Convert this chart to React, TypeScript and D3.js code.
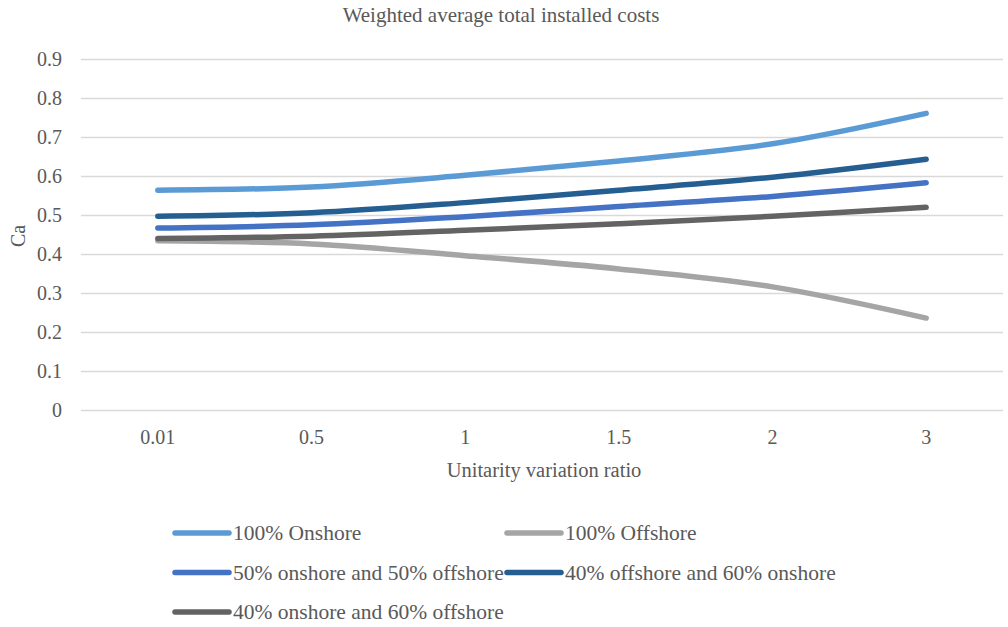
import React from "react";
import * as d3 from "d3";

// Category ticks on the x axis (unitarity variation ratio)
const categories = ["0.01", "0.5", "1", "1.5", "2", "3"];

// Ca values per scenario
const onshore100 = [0.565, 0.573, 0.603, 0.64, 0.684, 0.762];
const offshore100 = [0.435, 0.427, 0.397, 0.363, 0.317, 0.237];
const onshore50offshore50 = [0.468, 0.476, 0.497, 0.523, 0.549, 0.584];
const offshore40onshore60 = [0.498, 0.507, 0.533, 0.565, 0.598, 0.644];
const onshore40offshore60 = [0.441, 0.447, 0.462, 0.479, 0.498, 0.521];

const yTicks = [0, 0.1, 0.2, 0.3, 0.4, 0.5, 0.6, 0.7, 0.8, 0.9];

const series = [
  { name: "100% Onshore", values: onshore100, color: "#5b9bd5" },
  { name: "100% Offshore", values: offshore100, color: "#a5a5a5" },
  { name: "50% onshore and 50% offshore", values: onshore50offshore50, color: "#4472c4" },
  { name: "40% offshore and 60% onshore", values: offshore40onshore60, color: "#255e91" },
  { name: "40% onshore and 60% offshore", values: onshore40offshore60, color: "#636363" },
];

const W = 1008;
const H = 627;
const left = 81;
const right = 1003;
const top = 59.5;
const bottom = 410.5;
const FONT = '"Liberation Serif", "DejaVu Serif", serif';
const TEXT = "#595959";

const txt = (size: number): React.CSSProperties => ({ fontFamily: FONT, fontSize: size, fill: TEXT });

export default function App() {
  const x = d3.scaleBand<string>().domain(categories).range([left, right]);
  const y = d3.scaleLinear().domain([0, 0.9]).range([bottom, top]);
  const cx = (c: string) => (x(c) ?? 0) + x.bandwidth() / 2;

  const line = d3
    .line<number>()
    .x((_, i) => cx(categories[i]))
    .y((v) => y(v))
    .curve(d3.curveCatmullRom.alpha(0.5));

  const legendRows = [
    [series[0], series[1]],
    [series[2], series[3]],
    [series[4]],
  ];
  const legendX = [175, 507];
  const legendY = [533, 572.5, 612];

  return (
    <svg width={W} height={H} style={{ position: "absolute", left: 0, top: 0, background: "#fff" }}>
      <rect width={W} height={H} fill="#fff" />
      <text x={501} y={22} textAnchor="middle" style={txt(21)}>
        Weighted average total installed costs
      </text>

      {yTicks.map((t) => (
        <g key={t}>
          <line x1={left} x2={right} y1={y(t)} y2={y(t)} stroke="#d9d9d9" strokeWidth={1.3} />
          <text x={62} y={y(t) + 6.5} textAnchor="end" style={txt(20)}>
            {t === 0 ? "0" : t.toFixed(1)}
          </text>
        </g>
      ))}

      {categories.map((c) => (
        <text key={c} x={cx(c)} y={444} textAnchor="middle" style={txt(20)}>
          {c}
        </text>
      ))}

      <text x={(left + right) / 2 + 2} y={477} textAnchor="middle" style={txt(20.5)}>
        Unitarity variation ratio
      </text>
      <text transform={`translate(25, 236) rotate(-90)`} textAnchor="middle" style={txt(20)}>
        Ca
      </text>

      {series.map((s) => (
        <path
          key={s.name}
          d={line(s.values) ?? ""}
          fill="none"
          stroke={s.color}
          strokeWidth={5.5}
          strokeLinecap="round"
          strokeLinejoin="round"
        />
      ))}

      {legendRows.map((row, ri) =>
        row.map((s, ci) => (
          <g key={s.name}>
            <line
              x1={legendX[ci]}
              x2={legendX[ci] + 54}
              y1={legendY[ri]}
              y2={legendY[ri]}
              stroke={s.color}
              strokeWidth={5.5}
              strokeLinecap="round"
            />
            <text x={legendX[ci] + 58} y={legendY[ri] + 7} style={txt(21.5)}>
              {s.name}
            </text>
          </g>
        ))
      )}
    </svg>
  );
}
